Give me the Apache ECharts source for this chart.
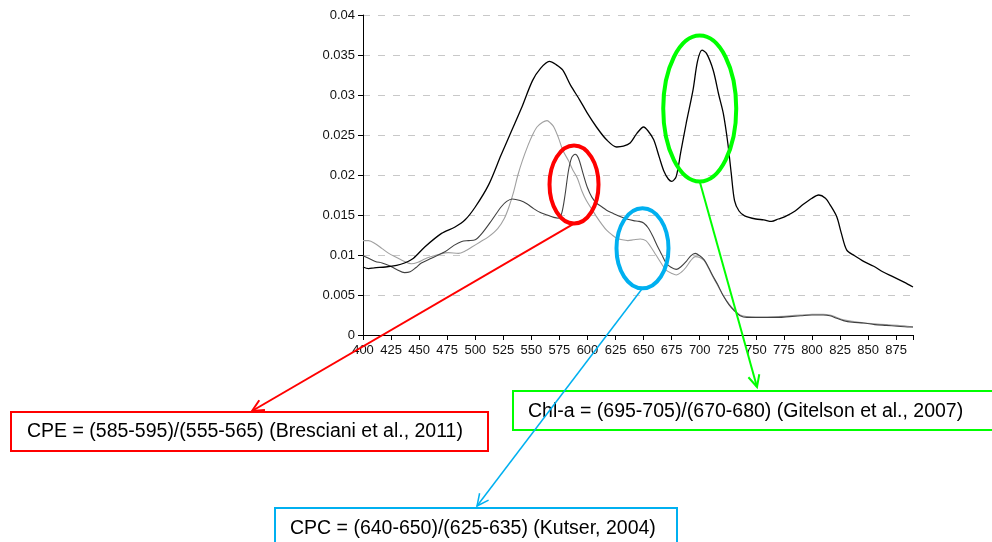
<!DOCTYPE html>
<html>
<head>
<meta charset="utf-8">
<script src="https://cdn.jsdelivr.net/npm/echarts@6/dist/echarts.min.js"></script>
<style>
  html, body { margin: 0; padding: 0; background: #fff; }
  #chart { width: 992px; height: 542px; }
</style>
</head>
<body>
<div id="chart"></div>
<script>
// Reflectance spectra (wavelength in nm, value)
const blackWl  = [400,405,410,420,430,437,445,455,470,482,491,500,512,523,532,541,551,558,566,572,578,585,593,600,608,617,626,632,638,644,650,654,659,664,668,672,675,679,683,688,694,698,702,706,712,717,721,725,728,731,735,740,750,757,764,770,776,785,792,800,806,812,816,822,826,831,838,846,855,863,872,882,890];
const blackVal = [0.0085,0.0083,0.0084,0.0085,0.0087,0.009,0.0096,0.011,0.0127,0.0135,0.0144,0.016,0.0188,0.0225,0.0254,0.0283,0.0318,0.0333,0.0342,0.0338,0.0331,0.0312,0.0294,0.0277,0.026,0.0244,0.0235,0.0236,0.024,0.0252,0.026,0.0255,0.0244,0.0222,0.0205,0.0195,0.0192,0.0198,0.0228,0.0265,0.0306,0.0342,0.0356,0.0352,0.0331,0.03,0.0277,0.024,0.0203,0.0168,0.0155,0.0149,0.0145,0.0144,0.0142,0.0145,0.0148,0.0155,0.0163,0.0171,0.0175,0.0171,0.0163,0.0148,0.0128,0.0106,0.0099,0.0092,0.0086,0.0079,0.0073,0.0066,0.006];

const darkWl  = [400,405,411,417,423,430,437,442,447,452,461,473,481,488,494,500,506,515,523,528,533,540,546,552,558,564,570,574,577,580,583,586,589,592,596,600,604,608,613,617,623,629,635,641,646,650,654,658,662,666,670,674,679,683,688,692,696,700,704,708,712,716,721,726,731,736,742,750,760,770,780,790,800,810,816,822,828,836,846,856,866,876,885,890];
const darkVal = [0.0099,0.0096,0.0092,0.009,0.0087,0.0082,0.0078,0.0079,0.0084,0.009,0.0096,0.0104,0.0112,0.0117,0.0118,0.0119,0.0127,0.0144,0.016,0.0167,0.017,0.0168,0.0164,0.0158,0.0153,0.015,0.0147,0.0146,0.0152,0.0175,0.0205,0.0222,0.0226,0.0221,0.0202,0.0184,0.0172,0.0165,0.016,0.0156,0.0152,0.0148,0.0145,0.0143,0.0142,0.014,0.0134,0.0124,0.0112,0.0101,0.009,0.0085,0.0082,0.0085,0.0092,0.0099,0.0102,0.0099,0.0094,0.0084,0.0073,0.0063,0.0049,0.0038,0.003,0.0024,0.0022,0.0022,0.0022,0.0022,0.0023,0.0024,0.0025,0.0025,0.0024,0.0021,0.0018,0.0016,0.0015,0.0013,0.0012,0.0011,0.001,0.001];

const lightWl  = [400,405,411,417,423,430,437,443,449,455,461,468,476,485,491,497,504,512,520,526,530,534,538,542,547,551,555,560,564,567,570,574,578,583,587,591,595,599,604,608,613,617,622,626,631,636,641,647,652,656,661,666,670,675,679,684,688,692,696,700,704,708,712,716,721,726,731,736,742,750,760,770,780,790,800,810,816,822,828,836,846,856,866,876,885,890];
const lightVal = [0.0118,0.0118,0.0114,0.0108,0.0102,0.0097,0.0092,0.0089,0.0091,0.0095,0.0098,0.0101,0.0103,0.0102,0.0105,0.011,0.0116,0.0123,0.0133,0.0146,0.016,0.0178,0.02,0.0218,0.0237,0.025,0.026,0.0266,0.0268,0.0265,0.026,0.0247,0.0231,0.0218,0.0206,0.0196,0.018,0.0168,0.0157,0.0148,0.0138,0.0131,0.0125,0.0121,0.0119,0.0118,0.0119,0.012,0.0118,0.0111,0.01,0.0089,0.0081,0.0077,0.0075,0.0079,0.0085,0.0093,0.0098,0.0097,0.0093,0.0083,0.0072,0.0062,0.0049,0.0039,0.0031,0.0025,0.0023,0.0022,0.0022,0.0023,0.0024,0.0025,0.0026,0.0026,0.0025,0.0022,0.0019,0.0017,0.0015,0.0014,0.0013,0.0012,0.0011,0.001];

// Index definitions: band ratio label, ellipse centre (nm, value)
const indexLabels = [
  'CPE = (585-595)/(555-565) (Bresciani et al., 2011)',
  'CPC = (640-650)/(625-635) (Kutser, 2004)',
  'Chl-a = (695-705)/(670-680) (Gitelson et al., 2007)'
];
const indexCentres = [[588, 0.0188], [649, 0.01084], [700, 0.0283]];

const FONT = '"Liberation Sans", Arial, sans-serif';
const zip = (a, b) => a.map((x, i) => [x, b[i]]);

const chart = echarts.init(document.getElementById('chart'), null, { renderer: 'canvas' });

chart.setOption({
  animation: false,
  backgroundColor: '#ffffff',
  grid: { left: 363, right: 79, top: 15, bottom: 207, containLabel: false },
  xAxis: {
    type: 'value', min: 400, max: 890, interval: 25,
    axisLine: { show: true, lineStyle: { color: '#000', width: 1 } },
    axisTick: { show: true, length: 5, lineStyle: { color: '#000' } },
    axisLabel: {
      color: '#111', fontSize: 13, fontFamily: FONT, margin: 9,
      formatter: v => (v % 25 === 0 ? String(v) : '')
    },
    splitLine: { show: false }
  },
  yAxis: {
    type: 'value', min: 0, max: 0.04, interval: 0.005,
    axisLine: { show: true, lineStyle: { color: '#000', width: 1 } },
    axisTick: { show: true, length: 5, lineStyle: { color: '#000' } },
    axisLabel: {
      color: '#111', fontSize: 13, fontFamily: FONT, margin: 8,
      formatter: v => String(parseFloat(v.toFixed(3)))
    },
    splitLine: { show: true, lineStyle: { color: '#c8c8c8', type: [7, 8], width: 1 } }
  },
  series: [
    { type: 'line', data: zip(lightWl, lightVal), showSymbol: false, smooth: 0.3,
      lineStyle: { color: '#a0a0a0', width: 1.1 }, z: 2 },
    { type: 'line', data: zip(darkWl, darkVal), showSymbol: false, smooth: 0.3,
      lineStyle: { color: '#404040', width: 1.1 }, z: 3 },
    { type: 'line', data: zip(blackWl, blackVal), showSymbol: false, smooth: 0.3,
      lineStyle: { color: '#000000', width: 1.3 }, z: 4 }
  ]
});

// Annotation layer: ellipses around the bands, arrows to labelled boxes
const colours = ['#ff0000', '#00b0f0', '#00ff00'];
const radii = [[24.5, 39], [26, 40], [36.5, 73]];
const arrowTips = [[252, 411], [477, 506], [757, 387]];
const arrowWidths = [2, 1.5, 2];
const boxes = [
  { x: 11, y: 412, w: 477, h: 39, tx: 27, ty: 432 },
  { x: 275, y: 508, w: 402, h: 60, tx: 290, ty: 529 },
  { x: 513, y: 391, w: 490, h: 39, tx: 528, ty: 412 }
];

const graphics = [];
indexCentres.forEach((c, i) => {
  const p = chart.convertToPixel({ gridIndex: 0 }, c);
  const [rx, ry] = radii[i];
  const col = colours[i];
  const b = boxes[i];
  // outlined box first so the connector lines stay visible across it
  graphics.push({
    type: 'rect', z: 100,
    shape: { x: b.x, y: b.y, width: b.w, height: b.h },
    style: { fill: 'none', stroke: col, lineWidth: 2 }
  });
  graphics.push({
    type: 'text', z: 101, x: b.tx, y: b.ty,
    style: { text: indexLabels[i], fill: '#000', fontSize: 19.5, fontFamily: FONT,
             textVerticalAlign: 'middle', verticalAlign: 'middle' }
  });
  graphics.push({
    type: 'ellipse', z: 102,
    shape: { cx: p[0], cy: p[1], rx: rx, ry: ry },
    style: { fill: 'none', stroke: col, lineWidth: 4 }
  });
  const sx = p[0], sy = p[1] + ry;
  const [tx, ty] = arrowTips[i];
  graphics.push({
    type: 'line', z: 102,
    shape: { x1: sx, y1: sy, x2: tx, y2: ty },
    style: { stroke: col, lineWidth: arrowWidths[i] }
  });
  const ang = Math.atan2(ty - sy, tx - sx);
  const L = 13, half = Math.PI / 7;
  graphics.push({
    type: 'polyline', z: 102,
    shape: { points: [
      [tx - L * Math.cos(ang - half), ty - L * Math.sin(ang - half)],
      [tx, ty],
      [tx - L * Math.cos(ang + half), ty - L * Math.sin(ang + half)]
    ] },
    style: { fill: 'none', stroke: col, lineWidth: arrowWidths[i] }
  });
});

chart.setOption({ graphic: graphics });
</script>
</body>
</html>
